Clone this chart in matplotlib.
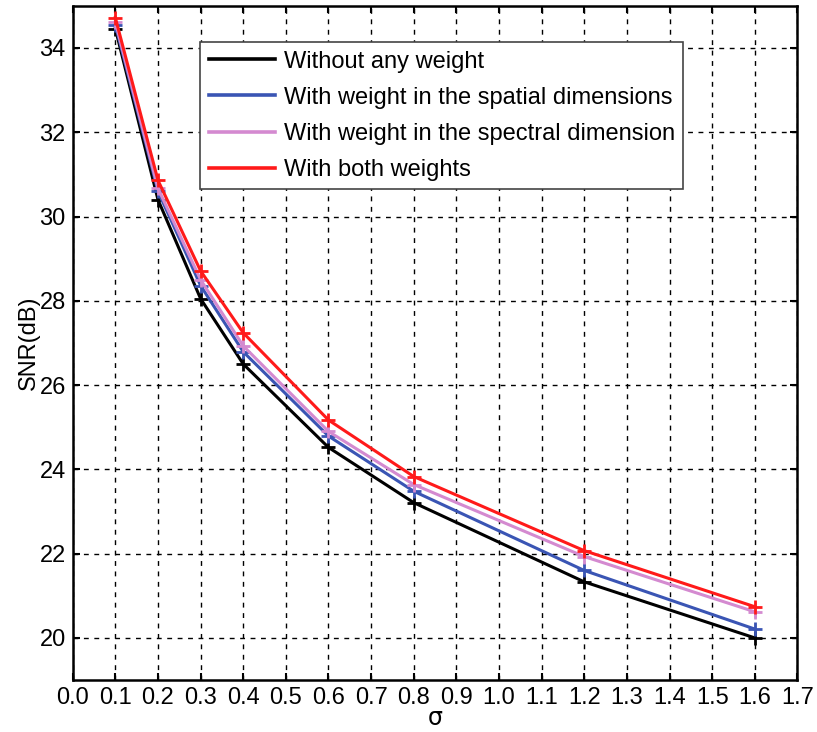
import matplotlib
matplotlib.use("Agg")
import matplotlib.pyplot as plt
from matplotlib.lines import Line2D

# noise level and the SNR of each weighting scheme
sigma = [0.1, 0.2, 0.3, 0.4, 0.6, 0.8, 1.2, 1.6]
snr_none = [34.46, 30.40, 28.05, 26.50, 24.52, 23.21, 21.33, 20.00]
snr_spatial = [34.55, 30.60, 28.36, 26.79, 24.79, 23.48, 21.60, 20.21]
snr_spectral = [34.62, 30.67, 28.50, 26.93, 24.90, 23.64, 21.93, 20.62]
snr_both = [34.72, 30.86, 28.71, 27.24, 25.17, 23.83, 22.07, 20.74]

labels = ["Without any weight",
          "With weight in the spatial dimensions",
          "With weight in the spectral dimension",
          "With both weights"]
colors = ["#000000", "#3a55b4", "#d48ad0", "#ff1a1a"]

plt.rcParams["font.family"] = ["Liberation Sans", "DejaVu Sans"]

fig = plt.figure(figsize=(8.17, 7.32), dpi=100)
ax = fig.add_axes([0.089, 0.071, 0.887, 0.921])

for ys, c in zip([snr_none, snr_spatial, snr_spectral, snr_both], colors):
    ax.plot(sigma, ys, color=c, lw=2.2, marker="+", ms=10, mew=2.0)

ax.set_xlim(0, 1.7)
ax.set_ylim(19, 35)
ax.set_xticks([i / 10 for i in range(18)])
ax.set_xticklabels(["%.1f" % (i / 10) for i in range(18)])
ax.set_yticks(range(20, 35, 2))

ax.grid(True, color="black", linestyle=(0, (3.5, 4)), linewidth=1.0)
ax.tick_params(direction="in", top=True, right=True, length=5, width=1.5,
               labelsize=17, pad=5)
for s in ax.spines.values():
    s.set_linewidth(1.8)

ax.set_xlabel("σ", fontsize=17, labelpad=-2, family=["DejaVu Sans"])
ax.set_ylabel("SNR(dB)", fontsize=17, labelpad=0)

# legend shows plain line samples without the point markers
handles = [Line2D([], [], color=c, lw=2.6) for c in colors]
leg = ax.legend(handles, labels, loc="upper left", bbox_to_anchor=(0.176, 0.946),
                fontsize=17, fancybox=False, framealpha=1, edgecolor="#444444",
                handlelength=2.8, handletextpad=0.4, borderpad=0.35,
                labelspacing=0.6, borderaxespad=0)
leg.get_frame().set_linewidth(1.2)

fig.savefig("out.png", dpi=100)
